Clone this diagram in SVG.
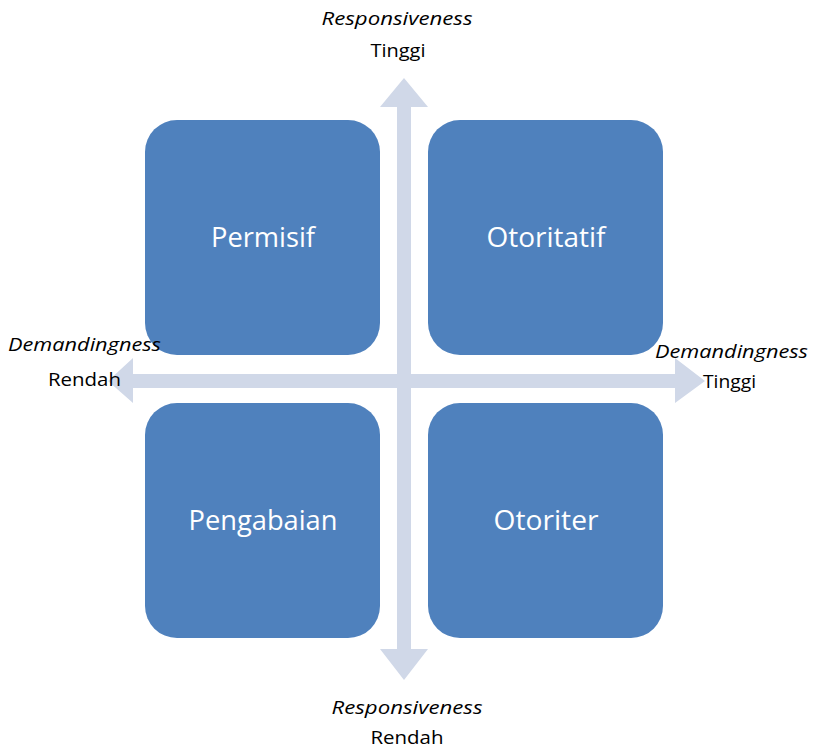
<svg xmlns="http://www.w3.org/2000/svg" width="813" height="748" viewBox="0 0 813 748">
<style>
.box{fill:#4F81BD}
.bt{font-family:"Open Sans","Liberation Sans",sans-serif;font-size:27px;fill:#ffffff;text-anchor:middle}
.lb{font-family:"Open Sans","Liberation Sans",sans-serif;font-size:18px;fill:#000000}
.it{font-style:italic}
.ax{fill:#D0D8E8}
</style>
<rect width="813" height="748" fill="#ffffff"/>
<g id="axes">
<polygon class="ax" points="404,78 428,107 411,107 411,649 428,649 404,680 380,649 397,649 397,107 380,107"/>
<polygon class="ax" points="108,381 133,358 133,374 675,374 675,358 705,381 675,403 675,388 133,388 133,403"/>
</g>
<g id="permisif"><rect class="box" x="145" y="120" width="235" height="235" rx="32"/><text class="bt" x="263" y="247" textLength="104" lengthAdjust="spacingAndGlyphs">Permisif</text></g>
<g id="otoritatif"><rect class="box" x="428" y="120" width="235" height="235" rx="32"/><text class="bt" x="546" y="247" textLength="119" lengthAdjust="spacingAndGlyphs">Otoritatif</text></g>
<g id="pengabaian"><rect class="box" x="145" y="403" width="235" height="235" rx="32"/><text class="bt" x="263" y="530" textLength="149" lengthAdjust="spacingAndGlyphs">Pengabaian</text></g>
<g id="otoriter"><rect class="box" x="428" y="403" width="235" height="235" rx="32"/><text class="bt" x="546" y="530" textLength="105" lengthAdjust="spacingAndGlyphs">Otoriter</text></g>
<g id="labels">
<text class="lb it" x="397" y="25" text-anchor="middle" textLength="151" lengthAdjust="spacingAndGlyphs">Responsiveness</text>
<text class="lb" x="398" y="57" text-anchor="middle" textLength="55" lengthAdjust="spacingAndGlyphs">Tinggi</text>
<text class="lb it" x="8" y="351" textLength="153" lengthAdjust="spacingAndGlyphs">Demandingness</text>
<text class="lb" x="48" y="386" textLength="73" lengthAdjust="spacingAndGlyphs">Rendah</text>
<text class="lb it" x="655" y="358" textLength="153" lengthAdjust="spacingAndGlyphs">Demandingness</text>
<text class="lb" x="703" y="388" textLength="53" lengthAdjust="spacingAndGlyphs">Tinggi</text>
<text class="lb it" x="407" y="714" text-anchor="middle" textLength="151" lengthAdjust="spacingAndGlyphs">Responsiveness</text>
<text class="lb" x="407" y="744" text-anchor="middle" textLength="73" lengthAdjust="spacingAndGlyphs">Rendah</text>
</g>
</svg>
